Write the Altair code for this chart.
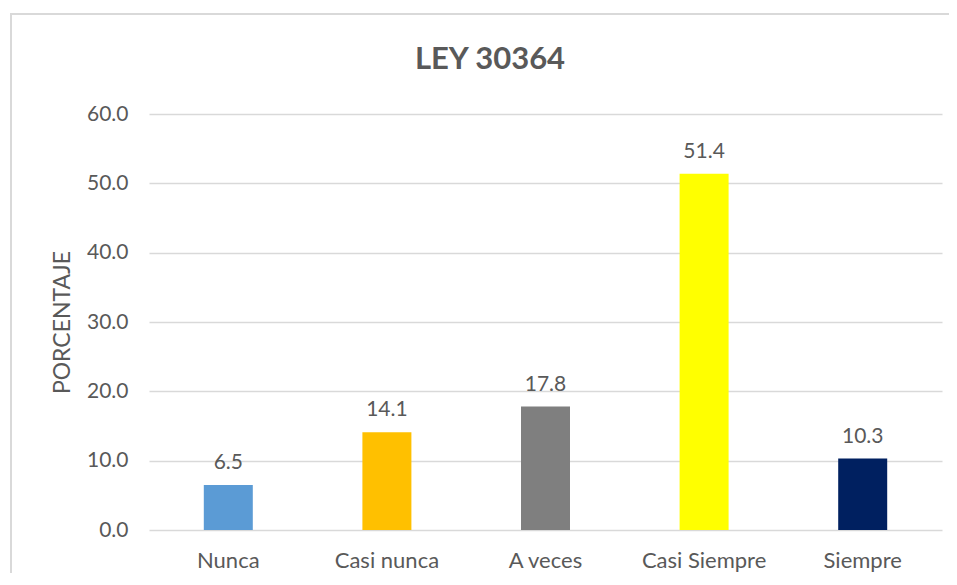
import altair as alt
import pandas as pd

categories = ["Nunca", "Casi nunca", "A veces", "Casi Siempre", "Siempre"]
values = [6.5, 14.1, 17.8, 51.4, 10.3]
colors = ["#5B9BD5", "#FFC000", "#7F7F7F", "#FFFF00", "#002060"]
y_ticks = [0, 10, 20, 30, 40, 50, 60]
title_text = "LEY 30364"

df = pd.DataFrame({"cat": categories, "val": values, "color": colors})

FONT = "Lato"
TXT = "#595959"

x_enc = alt.X("cat:N", sort=categories, title=None,
              scale=alt.Scale(paddingInner=0, paddingOuter=0),
              axis=alt.Axis(labelAngle=0, ticks=False, domain=False, grid=False,
                            labelFont=FONT, labelFontSize=22, labelColor=TXT,
                            labelPadding=20))
y_enc = alt.Y("val:Q", title="PORCENTAJE",
              scale=alt.Scale(domain=[0, 60], nice=False),
              axis=alt.Axis(values=y_ticks, format=".1f", ticks=False, domain=False,
                            grid=True, gridColor="#D9D9D9", gridWidth=1.5,
                            labelFont=FONT, labelFontSize=21, labelColor=TXT,
                            labelPadding=21,
                            titleFont=FONT, titleFontSize=23, titleFontWeight="normal",
                            titleColor=TXT, titleX=-87, titleBaseline="middle"))

one = pd.DataFrame({"a": [0]})
frame_top = alt.Chart(one).mark_rule(stroke="#D9D9D9", strokeWidth=2, clip=False).encode(
    x=alt.value(-139), x2=alt.value(900), y=alt.value(-100))
frame_left = alt.Chart(one).mark_rule(stroke="#D9D9D9", strokeWidth=2, clip=False).encode(
    x=alt.value(-138), y=alt.value(-100), y2=alt.value(600))

title = alt.Chart(pd.DataFrame({"t": [title_text]})).mark_text(
    font=FONT, fontSize=31, fontWeight="bold", color=TXT, align="center",
    baseline="alphabetic"
).encode(x=alt.value(341), y=alt.value(-45), text="t:N")

bars = alt.Chart(df).mark_bar(size=49).encode(
    x=x_enc, y=y_enc,
    color=alt.Color("color:N", scale=None, legend=None),
)
labels = alt.Chart(df).mark_text(
    baseline="alphabetic", dy=-16, font=FONT, fontSize=21, color=TXT
).encode(x=alt.X("cat:N", sort=categories), y="val:Q", text=alt.Text("val:Q", format=".1f"))

chart = alt.layer(frame_top, frame_left, title, bars, labels).properties(
    width=793, height=416,
    autosize=alt.AutoSizeParams(type="none"),
    padding={"left": 141, "top": 106, "right": 7, "bottom": 43},
).configure_view(stroke=None)

chart.save("out.html", embed_options={"renderer": "svg", "actions": False})
